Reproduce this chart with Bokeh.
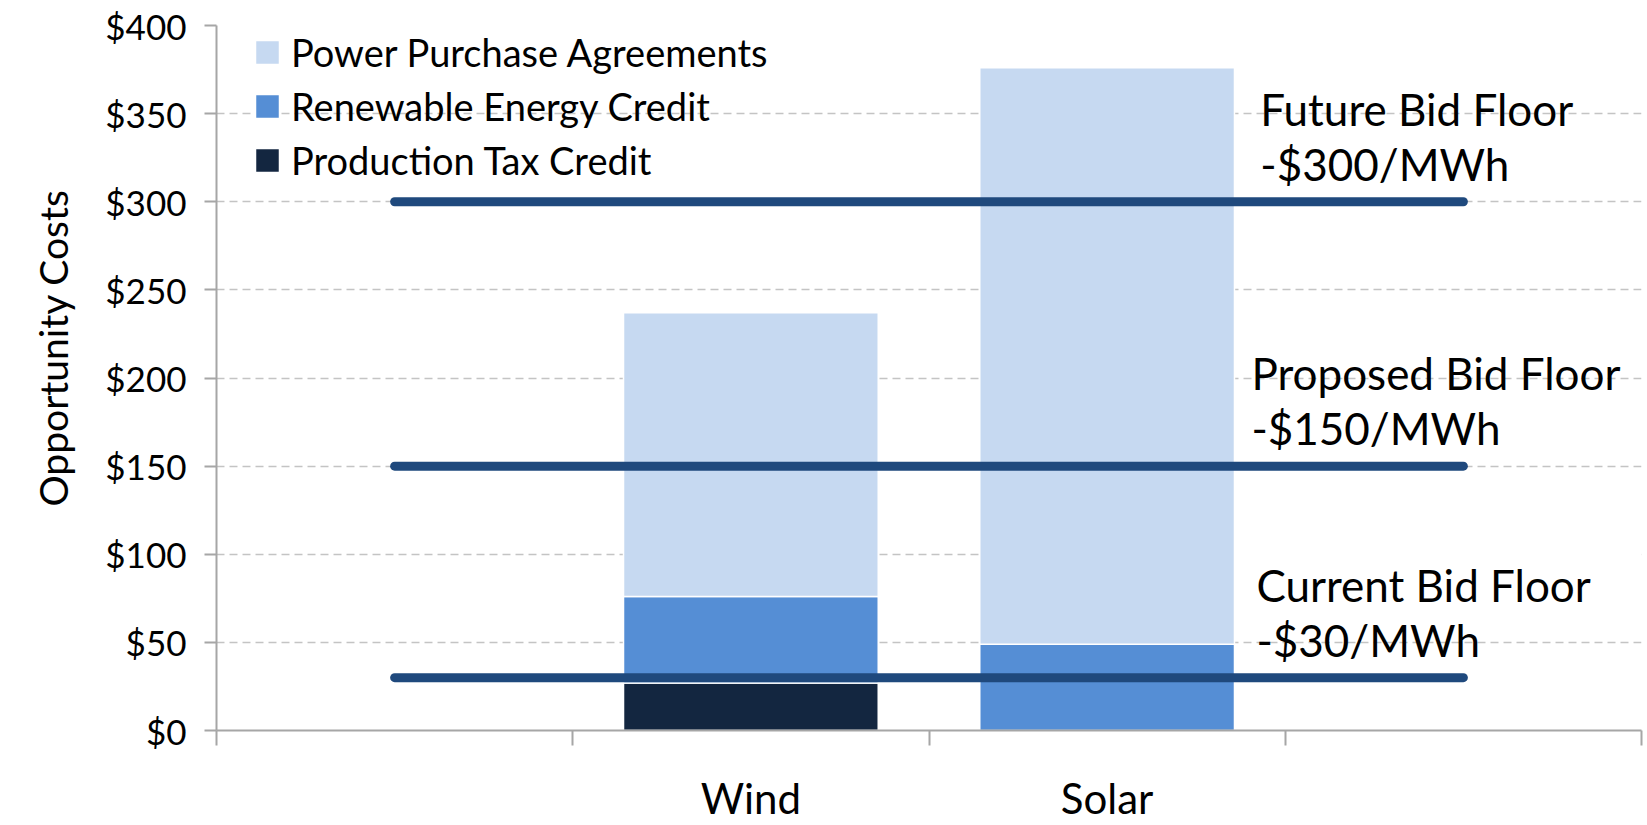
from bokeh.plotting import figure
from bokeh.models import (Range1d, FixedTicker, NumeralTickFormatter, BoxAnnotation,
                          Legend, LegendItem, ColumnDataSource, Title)
from bokeh.embed import file_html
from bokeh.resources import INLINE
from bokeh.core.properties import value

# ---------------- data ----------------
categories = ["Wind", "Solar"]
production_tax_credit = [27, 0]
renewable_energy_credit = [49, 49]
power_purchase_agreements = [161, 327]
series_names = ["Production Tax Credit", "Renewable Energy Credit", "Power Purchase Agreements"]
series_colors = ["#132640", "#558ED5", "#C6D9F1"]

floor_levels = [300, 150, 30]
floor_names = ["Future Bid Floor", "Proposed Bid Floor", "Current Bid Floor"]
floor_values = ["-$300/MWh", "-$150/MWh", "-$30/MWh"]

y_ticks = [0, 50, 100, 150, 200, 250, 300, 350, 400]
y_title = "Opportunity Costs"

FONT = "Lato"

# one blank slot on each side of the categories
n_slots = len(categories) + 2
x_pos = [i + 1.5 for i in range(len(categories))]
slot_edges = list(range(n_slots + 1))

p = figure(width=1647, height=825, output_backend="svg", toolbar_location=None,
           x_range=Range1d(0, n_slots), y_range=Range1d(y_ticks[0], y_ticks[-1]),
           min_border_left=213, min_border_right=6, min_border_top=25, min_border_bottom=95)
p.outline_line_color = None
p.background_fill_color = "white"
p.border_fill_color = "white"

p.ygrid.grid_line_color = "#c4c4c4"
p.ygrid.grid_line_dash = "8 5"
p.ygrid.grid_line_width = 1.5
p.xgrid.visible = False

# white fill of the "Current Bid Floor" text box (hides the grid behind it)
p.add_layout(BoxAnnotation(left=2.858, right=n_slots, bottom=70, top=106,
                           fill_color="white", fill_alpha=1, line_color=None,
                           level="underlay"))

# stacked bars
src = ColumnDataSource(dict(x=x_pos, ptc=production_tax_credit,
                            rec=renewable_energy_credit, ppa=power_purchase_agreements))
renderers = p.vbar_stack(["ptc", "rec", "ppa"], x="x", width=0.715, source=src,
                         color=series_colors, line_color="white", line_width=1.5)

# bid floor lines (from centre of left blank slot to centre of right blank slot)
fsrc = ColumnDataSource(dict(x0=[0.5] * len(floor_levels), x1=[n_slots - 0.5] * len(floor_levels),
                             y=floor_levels, names=floor_names, vals=floor_values,
                             tx=[2.930, 2.905, 2.919]))
p.segment(x0="x0", y0="y", x1="x1", y1="y", source=fsrc, line_color="#1F497D",
          line_width=9, line_cap="round")

p.text(x="tx", y="y", text="vals", source=fsrc, y_offset=-38, text_align="left",
       text_baseline="alphabetic", text_font=value(FONT), text_font_size="44px",
       text_color="black")
p.text(x="tx", y="y", text="names", source=fsrc, y_offset=-93, text_align="left",
       text_baseline="alphabetic", text_font=value(FONT), text_font_size="44px",
       text_color="black")

# y axis
ya = p.yaxis[0]
ya.ticker = FixedTicker(ticks=y_ticks)
ya.formatter = NumeralTickFormatter(format="$0")
ya.major_label_text_font = FONT
ya.major_label_text_font_size = "35px"
ya.major_label_text_color = "black"
ya.major_tick_out = 12
ya.major_tick_in = 0
ya.minor_tick_line_color = None
ya.axis_line_color = "#a6a6a6"
ya.axis_line_width = 2
ya.major_tick_line_color = "#a6a6a6"
ya.major_tick_line_width = 2
ya.major_label_standoff = 18

# y-axis title (placed in the left panel, shifted up like the original)
p.add_layout(Title(text=y_title, align="left", offset=224, standoff=54,
                   text_font=FONT, text_font_size="39px", text_font_style="normal",
                   text_color="black"), "left")

# x axis: category labels at slot centres, tick marks at slot edges
xa = p.xaxis[0]
xa.ticker = FixedTicker(ticks=x_pos, minor_ticks=slot_edges)
xa.major_label_overrides = {x: c for x, c in zip(x_pos, categories)}
xa.major_tick_out = 0
xa.major_tick_in = 0
xa.major_tick_line_color = None
xa.minor_tick_out = 15
xa.minor_tick_in = 0
xa.minor_tick_line_color = "#a6a6a6"
xa.minor_tick_line_width = 2
xa.axis_line_color = "#a6a6a6"
xa.axis_line_width = 2
xa.major_label_standoff = 27
xa.major_label_text_font = FONT
xa.major_label_text_font_size = "42px"
xa.major_label_text_color = "black"

# legend (top item = top of stack)
items = [LegendItem(label=n, renderers=[r]) for n, r in zip(series_names, renderers)][::-1]
leg = Legend(items=items, location=(36, 547), border_line_color=None,
             background_fill_alpha=0, glyph_width=30, glyph_height=30,
             label_standoff=9, spacing=8, padding=0, margin=0,
             label_text_font=FONT, label_text_font_size="38px", label_text_color="black")
p.add_layout(leg)

open("out.html", "w").write(file_html(p, INLINE))
